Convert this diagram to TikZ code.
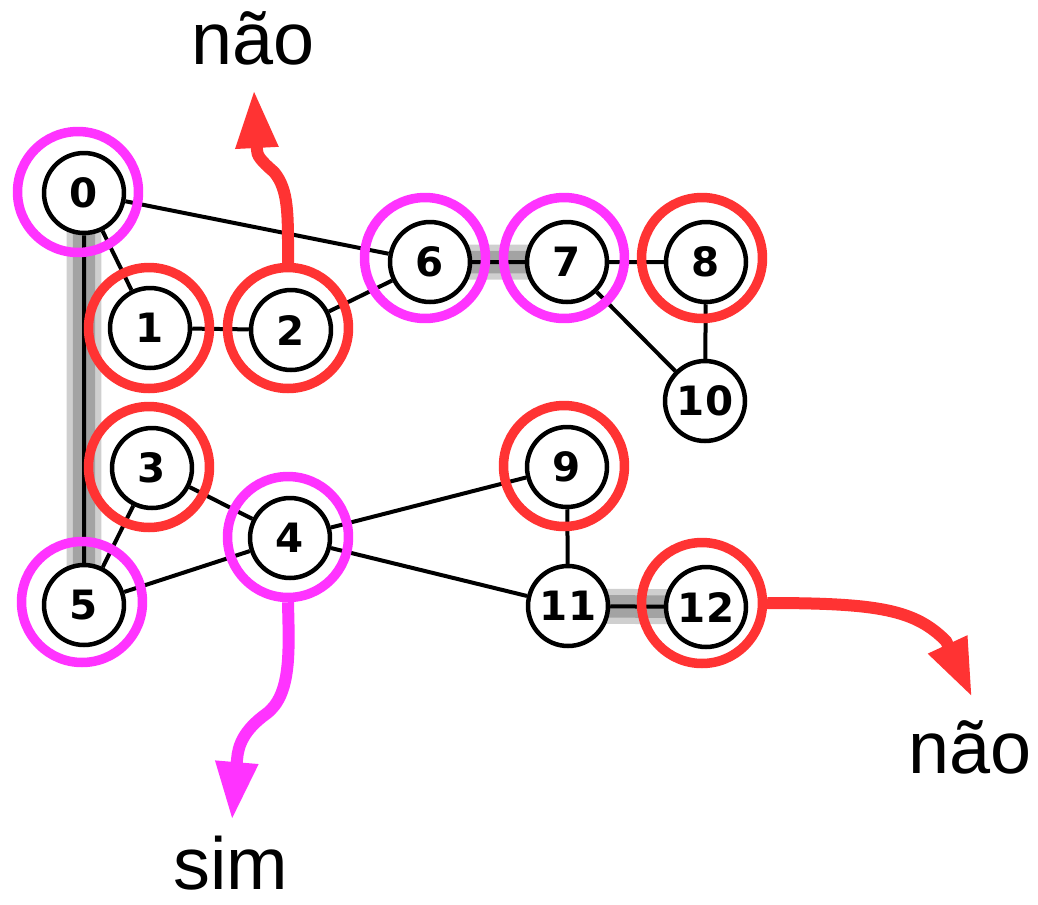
\documentclass[tikz,border=0pt]{standalone}
\usepackage{fontspec}
\setmainfont{Liberation Sans}
\newfontfamily\numfont{DejaVu Sans}
\usetikzlibrary{arrows.meta,backgrounds}
\definecolor{ringred}{RGB}{255,51,51}
\definecolor{ringpink}{RGB}{255,51,255}
\begin{document}
\begin{tikzpicture}[x=0.02cm,y=-0.02cm,
    vert/.style={circle,draw,line width=0.09cm,fill=white,minimum size=1.6cm,inner sep=0pt,
      font=\numfont\bfseries\fontsize{23}{23}\selectfont},
    redring/.style={circle,draw=ringred,line width=0.19cm,minimum size=2.42cm,inner sep=0pt},
    pinkring/.style={redring,draw=ringpink},
    link/.style={line width=0.08cm},
    halo/.style={line width=0.7cm,gray!38},
    halocore/.style={line width=0.45cm,gray!72},
    arr/.style={line width=0.24cm,-{Triangle[length=1.16cm,width=0.8cm]}},
    lbl/.style={font=\fontsize{42}{50}\selectfont,anchor=base,inner sep=0pt}]
  \useasboundingbox (0,0) rectangle (1038,904);
  \node[vert] (n0) at (84,193) {0};
  \node[vert] (n1) at (150,328) {1};
  \node[vert] (n2) at (291,330) {2};
  \node[vert] (n3) at (152,468) {3};
  \node[vert] (n4) at (290,538) {4};
  \node[vert] (n5) at (84,605) {5};
  \node[vert] (n6) at (430,262) {6};
  \node[vert] (n7) at (567,262) {7};
  \node[vert] (n8) at (706,262) {8};
  \node[vert] (n9) at (567,467) {9};
  \node[vert] (n10) at (705,401) {10};
  \node[vert] (n11) at (568,606) {11};
  \node[vert] (n12) at (706,607) {12};
  \begin{scope}[on background layer]
    \draw[halo] (n0.center) -- (n5.center) (n6.center) -- (n7.center) (n11.center) -- (n12.center);
    \draw[halocore] (n0.center) -- (n5.center) (n6.center) -- (n7.center) (n11.center) -- (n12.center);
  \end{scope}
  \draw[link] (n0) -- (n1) (n0) -- (n5) (n0) -- (n6) (n1) -- (n2) (n2) -- (n6)
    (n6) -- (n7) (n7) -- (n8) (n7) -- (n10) (n8) -- (n10)
    (n3) -- (n4) (n3) -- (n5) (n4) -- (n5) (n4) -- (n9) (n4) -- (n11)
    (n9) -- (n11) (n11) -- (n12);
  \node[pinkring] (r0) at (78,192) {};
  \node[redring] (r1) at (149,328) {};
  \node[redring] (r2) at (288,328) {};
  \node[redring] (r3) at (149,467) {};
  \node[pinkring] (r4) at (288,537) {};
  \node[pinkring] (r5) at (82,602) {};
  \node[pinkring] (r6) at (425,258) {};
  \node[pinkring] (r7) at (564,258) {};
  \node[redring] (r8) at (702,258) {};
  \node[redring] (r9) at (564,466) {};
  \node[redring] (r12) at (702,603) {};
  \node[lbl] (top) at (253,64) {não};
  \node[lbl] (bot) at (231,889) {sim};
  \node[lbl] (right) at (970,773) {não};
  \coordinate (tipA) at (254,90);
  \coordinate (tipB) at (232,820);
  \coordinate (tipC) at (972,697);
  \draw[arr,ringred] (r2.north) .. controls (288,215) and (289,190) .. (274,172)
    .. controls (260,160) and (257,155) .. (257,150) -- (tipA);
  \draw[arr,ringpink] (r4.south) .. controls (289,650) and (292,695) .. (266,714)
    .. controls (244,730) and (238,745) .. (237,760) -- (tipB);
  \draw[arr,ringred] (r12.east) .. controls (880,603) and (915,610) .. (946,641) -- (tipC);
\end{tikzpicture}
\end{document}
